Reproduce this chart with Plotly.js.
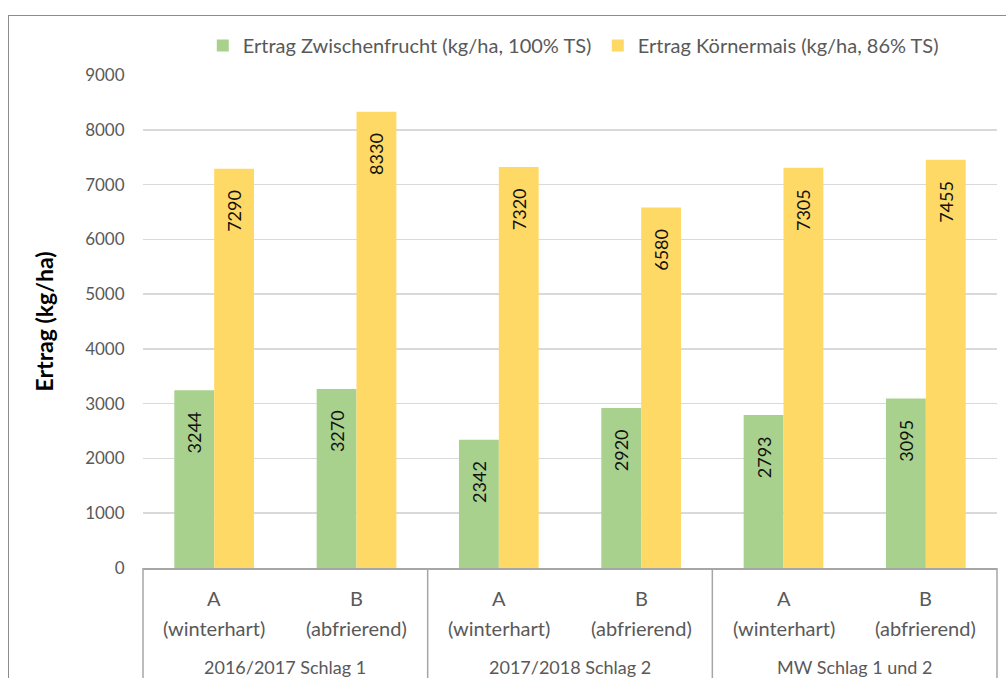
<!DOCTYPE html>
<html>
<head>
<meta charset="utf-8">
<script src="https://cdn.plot.ly/plotly-3.0.1.min.js"></script>
<style>
  html, body { margin: 0; padding: 0; background: #fff; }
  #wrap { position: relative; width: 1006px; height: 678px; overflow: hidden; }
  #chart { width: 1006px; height: 678px; }
  #frame { position: absolute; left: 8px; top: 15px; width: 1010px; height: 700px;
           border-left: 1.5px solid #8c8c8c; border-top: 1.5px solid #8c8c8c; pointer-events: none; }
</style>
</head>
<body>
<div id="wrap"><div id="chart"></div><div id="frame"></div></div>
<script>
const groups = ["2016/2017 Schlag 1", "2016/2017 Schlag 1", "2017/2018 Schlag 2", "2017/2018 Schlag 2", "MW Schlag 1 und 2", "MW Schlag 1 und 2"];
const variants = ["A", "B", "A", "B", "A", "B"];
const variantDesc = ["(winterhart)", "(abfrierend)", "(winterhart)", "(abfrierend)", "(winterhart)", "(abfrierend)"];
const zwischenfrucht = [3244, 3270, 2342, 2920, 2793, 3095];
const koernermais = [7290, 8330, 7320, 6580, 7305, 7455];
const seriesNames = ["Ertrag Zwischenfrucht (kg/ha, 100% TS)", "Ertrag Körnermais (kg/ha, 86% TS)"];
const yTitle = "Ertrag (kg/ha)";

const FONT = "Lato, 'Open Sans', sans-serif";
const GREY = "#595959";
const categories = groups.map((g, i) => g + " | " + variants[i]);
const pad = "\u00a0\u00a0\u00a0\u00a0";
const labelFont = {family: FONT, size: 18, color: "#111"};

const traces = [
  {type: "bar", name: seriesNames[0], x: categories, y: zwischenfrucht,
   marker: {color: "#A9D18E"}, text: zwischenfrucht.map(v => String(v) + pad), textposition: "inside",
   insidetextanchor: "end", textangle: -90, textfont: labelFont, constraintext: "none"},
  {type: "bar", name: seriesNames[1], x: categories, y: koernermais,
   marker: {color: "#FFD966"}, text: koernermais.map(v => String(v) + pad), textposition: "inside",
   insidetextanchor: "end", textangle: -90, textfont: labelFont, constraintext: "none"}
];

// category labels under the axis
const annotations = [];
categories.forEach((c, i) => {
  annotations.push({xref: "x", yref: "paper", x: c, y: 0, xanchor: "center", yanchor: "middle", yshift: -30,
    text: variants[i], showarrow: false, font: {family: FONT, size: 20, color: GREY}});
  annotations.push({xref: "x", yref: "paper", x: c, y: 0, xanchor: "center", yanchor: "middle", yshift: -60,
    text: variantDesc[i], showarrow: false, font: {family: FONT, size: 20, color: GREY}});
});
const uniqueGroups = [...new Set(groups)];
const nG = uniqueGroups.length;
uniqueGroups.forEach((g, k) => {
  annotations.push({xref: "paper", yref: "paper", x: (2 * k + 1) / (2 * nG), y: 0, xanchor: "center", yanchor: "middle", yshift: -99,
    text: g, showarrow: false, font: {family: FONT, size: 18, color: GREY}});
});
const shapes = [];
for (let k = 0; k <= nG; k++) {
  shapes.push({type: "line", xref: "paper", yref: "paper", x0: k / nG, x1: k / nG, y0: 0, y1: -0.3,
    line: {color: "#a6a6a6", width: 1.5}});
}

const layout = {
  width: 1006, height: 678,
  margin: {l: 143, r: 9, t: 75, b: 110, autoexpand: false},
  paper_bgcolor: "#fff", plot_bgcolor: "#fff",
  font: {family: FONT, size: 17, color: GREY},
  barmode: "group", bargap: 0.44, bargroupgap: 0,
  showlegend: true,
  legend: {orientation: "h", x: 0.070, xanchor: "left", y: 1.060, yanchor: "middle",
           font: {family: FONT, size: 20, color: GREY}, traceorder: "normal",
           entrywidth: 350, entrywidthmode: "pixels"},
  xaxis: {type: "category", showline: true, linecolor: "#a6a6a6", linewidth: 1.5,
          showticklabels: false, ticks: "", showgrid: false},
  yaxis: {range: [0, 9000], dtick: 1000, showgrid: true, gridcolor: "#d9d9d9", gridwidth: 1.5,
          zeroline: false, showline: false, ticks: "outside", ticklen: 14, tickcolor: "rgba(0,0,0,0)",
          tickfont: {family: FONT, size: 17, color: GREY},
          title: {text: "<b>" + yTitle + "</b>", font: {family: FONT, size: 23, color: "#000"}, standoff: 25}},
  annotations: annotations,
  shapes: shapes
};

Plotly.newPlot("chart", traces, layout, {displayModeBar: false, staticPlot: true});
</script>
</body>
</html>
